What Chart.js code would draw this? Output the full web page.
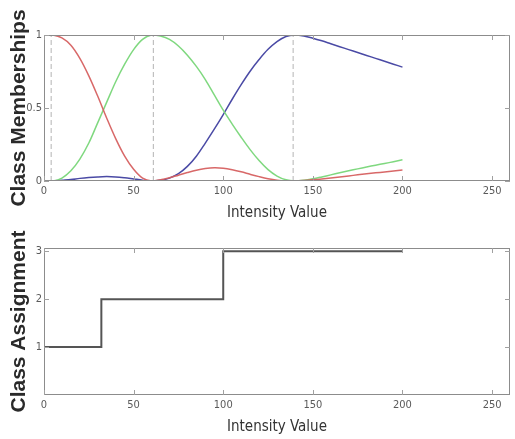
<!DOCTYPE html>
<html>
<head>
<meta charset="utf-8">
<script src="https://cdn.jsdelivr.net/npm/chart.js@4"></script>
<style>
  html, body { margin: 0; padding: 0; background: #fff; }
  #wrap { position: relative; width: 515px; height: 439px; }
  #top-box { position: absolute; left: 0; top: 0; width: 515px; height: 224px; }
  #bottom-box { position: absolute; left: 0; top: 222px; width: 515px; height: 217px; }
</style>
</head>
<body>
<div id="wrap">
  <div id="top-box"><canvas id="chart-memberships"></canvas></div>
  <div id="bottom-box"><canvas id="chart-assignment"></canvas></div>
</div>
<script>
// intensity values sampled for the membership curves
const xValues = [0, 5, 10, 15, 20, 25, 30, 35, 40, 45, 50, 55, 60, 65, 70, 75, 80, 85, 90, 95,
  100, 105, 110, 115, 120, 125, 130, 135, 140, 145, 150, 155, 160, 165, 170, 175, 180, 185, 190, 195, 200];

// class memberships
const redValues = [1, 1, 0.98, 0.93, 0.84, 0.72, 0.58, 0.43, 0.29, 0.17, 0.08, 0.02, 0, 0.008, 0.022, 0.04, 0.058, 0.074, 0.085, 0.09,
  0.087, 0.077, 0.063, 0.046, 0.03, 0.016, 0.006, 0.001, 0, 0.003, 0.008, 0.014, 0.021, 0.028, 0.035, 0.042, 0.049, 0.056, 0.062, 0.069, 0.075];
const greenValues = [0, 0, 0.02, 0.07, 0.15, 0.26, 0.4, 0.54, 0.68, 0.8, 0.9, 0.97, 1, 0.993, 0.97, 0.925, 0.862, 0.785, 0.695, 0.59,
  0.485, 0.39, 0.3, 0.215, 0.14, 0.078, 0.034, 0.008, 0, 0.005, 0.015, 0.028, 0.042, 0.056, 0.07, 0.083, 0.096, 0.108, 0.12, 0.132, 0.145];
const blueValues = [0, 0, 0.005, 0.01, 0.018, 0.024, 0.028, 0.03, 0.028, 0.022, 0.014, 0.006, 0, 0.005, 0.02, 0.05, 0.1, 0.17, 0.26, 0.355,
  0.455, 0.56, 0.66, 0.752, 0.832, 0.902, 0.955, 0.99, 1, 0.993, 0.978, 0.96, 0.94, 0.92, 0.9, 0.88, 0.86, 0.84, 0.82, 0.8, 0.78];

// dashed markers at the class centres
const centreX = [4, 61, 139];

// class assignment step line
const stepX = [0, 32, 32, 100, 100, 200];
const stepY = [1, 1, 2, 2, 3, 3];

// tick labels
const xTicks = [0, 50, 100, 150, 200, 250];
const memberTicks = [0, 0.5, 1];
const classTicks = [1, 2, 3];

const NARROW = '"DejaVu Sans Condensed", "Liberation Sans Narrow", "Liberation Sans", Arial, sans-serif';
const tickFont = { family: NARROW, size: 11 };
const TICK_COLOR = '#5a5a5a';

// MATLAB style box with inward ticks, using the chart's own scales
const boxPlugin = {
    id: 'matlabBox',
    afterDatasetsDraw(chart) {
        const { ctx, chartArea: { left, right, top, bottom }, scales: { x, y } } = chart;
        ctx.save();
        ctx.strokeStyle = '#8c8c8c';
        ctx.lineWidth = 1;
        ctx.strokeRect(left + 0.5, top + 0.5, right - left - 1, bottom - top - 1);
        ctx.strokeStyle = '#a0a0a0';
        ctx.beginPath();
        x.ticks.forEach(t => {
            const px = Math.round(x.getPixelForValue(t.value)) + 0.5;
            ctx.moveTo(px, bottom); ctx.lineTo(px, bottom - 5);
            ctx.moveTo(px, top); ctx.lineTo(px, top + 5);
        });
        y.ticks.forEach(t => {
            const py = Math.round(y.getPixelForValue(t.value)) + 0.5;
            ctx.moveTo(left, py); ctx.lineTo(left + 5, py);
            ctx.moveTo(right, py); ctx.lineTo(right - 5, py);
        });
        ctx.stroke();
        ctx.restore();
    }
};

function xScale(axisHeight, titlePad) {
    return {
        type: 'linear',
        min: 0,
        max: 260,
        afterBuildTicks: s => { s.ticks = xTicks.map(v => ({ value: v })); },
        afterFit: s => { s.height = axisHeight; },
        grid: { display: false, drawTicks: false },
        border: { display: false },
        ticks: { font: tickFont, color: TICK_COLOR, padding: 4, maxRotation: 0, callback: v => String(v) },
        title: {
            display: true,
            text: 'Intensity Value',
            font: { family: NARROW, size: 15 },
            color: '#333',
            padding: { top: 0, bottom: titlePad }
        }
    };
}

function yScale(max, tickList, title) {
    return {
        type: 'linear',
        min: 0,
        max: max,
        afterBuildTicks: s => { s.ticks = tickList.map(v => ({ value: v })); },
        afterFit: s => { s.width = 44; },
        grid: { display: false, drawTicks: false },
        border: { display: false },
        ticks: { font: tickFont, color: TICK_COLOR, padding: 2, callback: v => String(v) },
        title: {
            display: true,
            text: title,
            font: { family: 'Arial, "Liberation Sans", sans-serif', size: 21, weight: 'bold' },
            color: '#2a2a2a',
            padding: { top: 7, bottom: 0 }
        }
    };
}

const curveStyle = (color, values) => ({
    data: xValues.map((x, i) => ({ x: x, y: values[i] })),
    borderColor: color,
    borderWidth: 1.5,
    pointRadius: 0,
    tension: 0.35,
    fill: false
});

const centreLines = centreX.map(cx => ({
    data: [{ x: cx, y: 0 }, { x: cx, y: 1 }],
    borderColor: '#b4b4b4',
    borderWidth: 1,
    borderDash: [5, 3],
    pointRadius: 0,
    fill: false
}));

new Chart(document.getElementById('chart-memberships'), {
    type: 'line',
    data: {
        datasets: [
            ...centreLines,
            curveStyle('rgba(214, 96, 96, 0.95)', redValues),
            curveStyle('rgba(120, 214, 120, 0.95)', greenValues),
            curveStyle('rgba(64, 64, 160, 0.95)', blueValues)
        ]
    },
    options: {
        responsive: true,
        maintainAspectRatio: false,
        animation: false,
        layout: { padding: { top: 35, right: 5, left: 0, bottom: 0 } },
        plugins: { legend: { display: false }, tooltip: { enabled: false } },
        scales: {
            x: xScale(43, 2),
            y: yScale(1, memberTicks, 'Class Memberships')
        }
    },
    plugins: [boxPlugin]
});

new Chart(document.getElementById('chart-assignment'), {
    type: 'line',
    data: {
        datasets: [{
            data: stepX.map((x, i) => ({ x: x, y: stepY[i] })),
            borderColor: '#555555',
            borderWidth: 2,
            pointRadius: 0,
            tension: 0,
            fill: false
        }]
    },
    options: {
        responsive: true,
        maintainAspectRatio: false,
        animation: false,
        layout: { padding: { top: 26, right: 5, left: 0, bottom: 0 } },
        plugins: { legend: { display: false }, tooltip: { enabled: false } },
        scales: {
            x: xScale(44, 3),
            y: yScale(3.07, classTicks, 'Class Assignment')
        }
    },
    plugins: [boxPlugin]
});
</script>
</body>
</html>
